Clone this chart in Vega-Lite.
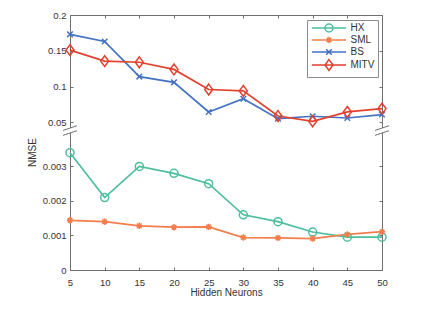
{
  "$schema": "https://vega.github.io/schema/vega-lite/v6.json",
  "width": 312,
  "height": 255,
  "autosize": {"type": "none"},
  "padding": {"left": 70, "top": 15, "right": 66, "bottom": 56},
  "background": "white",
  "config": {
    "view": {"stroke": null},
    "font": "Liberation Sans",
    "axis": {
      "domainColor": "#707070",
      "tickColor": "#707070",
      "labelColor": "#333333",
      "titleColor": "#333333",
      "labelFontSize": 9.5,
      "titleFontSize": 10,
      "titleFontWeight": "normal",
      "tickSize": -3,
      "grid": false,
      "domainWidth": 1,
      "tickWidth": 1,
      "labelFlush": false,
      "labelOverlap": false,
      "labelBound": false
    },
    "legend": {
      "orient": "none", "legendX": 237, "legendY": 5, "title": null,
      "strokeColor": "#8c8c8c", "fillColor": "white", "padding": 3, "rowPadding": -2,
      "symbolSize": 64, "symbolStrokeWidth": 1.5, "symbolOffset": 14, "labelOffset": 16.5,
      "symbolOpacity": 1, "labelFontSize": 10, "labelColor": "#333333"
    }
  },
  "datasets": {
    "nmse": [
      {"n": 5, "s": "HX", "v": 0.0034},
      {"n": 10, "s": "HX", "v": 0.0021},
      {"n": 15, "s": "HX", "v": 0.0030},
      {"n": 20, "s": "HX", "v": 0.0028},
      {"n": 25, "s": "HX", "v": 0.0025},
      {"n": 30, "s": "HX", "v": 0.0016},
      {"n": 35, "s": "HX", "v": 0.0014},
      {"n": 40, "s": "HX", "v": 0.0011},
      {"n": 45, "s": "HX", "v": 0.00095},
      {"n": 50, "s": "HX", "v": 0.00095},
      {"n": 5, "s": "SML", "v": 0.00144},
      {"n": 10, "s": "SML", "v": 0.0014},
      {"n": 15, "s": "SML", "v": 0.00128},
      {"n": 20, "s": "SML", "v": 0.00124},
      {"n": 25, "s": "SML", "v": 0.00125},
      {"n": 30, "s": "SML", "v": 0.00094},
      {"n": 35, "s": "SML", "v": 0.00093},
      {"n": 40, "s": "SML", "v": 0.00091},
      {"n": 45, "s": "SML", "v": 0.00103},
      {"n": 50, "s": "SML", "v": 0.00111},
      {"n": 5, "s": "BS", "v": 0.173},
      {"n": 10, "s": "BS", "v": 0.163},
      {"n": 15, "s": "BS", "v": 0.114},
      {"n": 20, "s": "BS", "v": 0.106},
      {"n": 25, "s": "BS", "v": 0.0646},
      {"n": 30, "s": "BS", "v": 0.083},
      {"n": 35, "s": "BS", "v": 0.0553},
      {"n": 40, "s": "BS", "v": 0.0586},
      {"n": 45, "s": "BS", "v": 0.0562},
      {"n": 50, "s": "BS", "v": 0.061},
      {"n": 5, "s": "MITV", "v": 0.151},
      {"n": 10, "s": "MITV", "v": 0.1356},
      {"n": 15, "s": "MITV", "v": 0.134},
      {"n": 20, "s": "MITV", "v": 0.124},
      {"n": 25, "s": "MITV", "v": 0.096},
      {"n": 30, "s": "MITV", "v": 0.094},
      {"n": 35, "s": "MITV", "v": 0.059},
      {"n": 40, "s": "MITV", "v": 0.0516},
      {"n": 45, "s": "MITV", "v": 0.0646},
      {"n": 50, "s": "MITV", "v": 0.0693}
    ],
    "breaks": [
      {"n": 5, "v": 0.025},
      {"n": 50, "v": 0.025}
    ]
  },
  "layer": [
    {
      "data": {"name": "nmse"},
      "mark": {"type": "line", "strokeWidth": 1.7},
      "encoding": {
        "x": {
          "field": "n", "type": "quantitative",
          "scale": {"domain": [5, 50], "nice": false, "zero": false},
          "axis": {"orient": "bottom", "values": [5, 10, 15, 20, 25, 30, 35, 40, 45, 50], "labelPadding": 10, "title": "Hidden Neurons", "titlePadding": 1}
        },
        "y": {
          "field": "v", "type": "quantitative",
          "scale": {"domain": [0, 0.0039, 0.045, 0.2], "range": [255, 120.4, 111, 0], "nice": false, "zero": false},
          "axis": {"orient": "left", "values": [0, 0.001, 0.002, 0.003, 0.05, 0.1, 0.15, 0.2], "labelExpr": "'' + datum.value", "labelPadding": 7, "title": "NMSE", "titleX": -33, "titleY": 137}
        },
        "color": {
          "field": "s", "type": "nominal",
          "scale": {"domain": ["HX", "SML", "BS", "MITV"], "range": ["#4DBE9E", "#F47D4D", "#4472C4", "#E2402E"]}
        }
      }
    },
    {
      "data": {"name": "nmse"},
      "transform": [{"filter": "datum.s === 'HX'"}],
      "mark": {"type": "point", "filled": false, "strokeWidth": 1.5, "size": 64, "opacity": 1, "shape": "M-1,0A1,1 0 1,0 1,0A1,1 0 1,0 -1,0"},
      "encoding": {
        "x": {
          "field": "n", "type": "quantitative",
          "axis": {"orient": "top", "values": [5, 10, 15, 20, 25, 30, 35, 40, 45, 50], "labels": false, "title": null}
        },
        "y": {
          "field": "v", "type": "quantitative",
          "axis": {"orient": "right", "values": [0, 0.001, 0.002, 0.003, 0.05, 0.1, 0.15, 0.2], "labels": false, "title": null}
        },
        "color": {"field": "s", "type": "nominal"}
      }
    },
    {
      "data": {"name": "nmse"},
      "transform": [{"filter": "datum.s === 'SML'"}],
      "mark": {"type": "point", "filled": false, "strokeWidth": 1.5, "size": 64, "opacity": 1, "shape": "M0,-0.8V0.8M-0.8,0H0.8M-0.57,-0.57L0.57,0.57M-0.57,0.57L0.57,-0.57"},
      "encoding": {
        "x": {"field": "n", "type": "quantitative", "axis": null},
        "y": {"field": "v", "type": "quantitative", "axis": null},
        "color": {"field": "s", "type": "nominal"}
      }
    },
    {
      "data": {"name": "nmse"},
      "transform": [{"filter": "datum.s === 'BS'"}],
      "mark": {"type": "point", "filled": false, "strokeWidth": 1.5, "size": 64, "opacity": 1, "shape": "M-0.7,-0.7L0.7,0.7M-0.7,0.7L0.7,-0.7"},
      "encoding": {
        "x": {"field": "n", "type": "quantitative", "axis": null},
        "y": {"field": "v", "type": "quantitative", "axis": null},
        "color": {"field": "s", "type": "nominal"}
      }
    },
    {
      "data": {"name": "nmse"},
      "transform": [{"filter": "datum.s === 'MITV'"}],
      "mark": {"type": "point", "filled": false, "strokeWidth": 1.5, "size": 64, "opacity": 1, "shape": "M0,-1.35L1,0L0,1.35L-1,0Z"},
      "encoding": {
        "x": {"field": "n", "type": "quantitative", "axis": null},
        "y": {"field": "v", "type": "quantitative", "axis": null},
        "color": {"field": "s", "type": "nominal"}
      }
    },
    {
      "data": {"name": "nmse"},
      "mark": {"type": "point", "filled": false, "strokeWidth": 1.5, "size": 64, "opacity": 0},
      "encoding": {
        "x": {"field": "n", "type": "quantitative", "axis": null},
        "y": {"field": "v", "type": "quantitative", "axis": null},
        "color": {"field": "s", "type": "nominal"},
        "shape": {
          "field": "s", "type": "nominal",
          "scale": {
            "domain": ["HX", "SML", "BS", "MITV"],
            "range": [
              "M-4.25,0H4.25M-1,0A1,1 0 1,0 1,0A1,1 0 1,0 -1,0",
              "M-4.25,0H4.25M0,-0.8V0.8M-0.57,-0.57L0.57,0.57M-0.57,0.57L0.57,-0.57",
              "M-4.25,0H4.25M-0.7,-0.7L0.7,0.7M-0.7,0.7L0.7,-0.7",
              "M-4.25,0H4.25M0,-1.35L1,0L0,1.35L-1,0Z"
            ]
          }
        }
      }
    },
    {
      "data": {"name": "breaks"},
      "mark": {"type": "point", "filled": true, "fill": "white", "strokeOpacity": 0, "size": 196, "opacity": 1, "shape": "M-1,-0.02L1,-0.69L1,0.02L-1,0.69Z"},
      "encoding": {
        "x": {"field": "n", "type": "quantitative", "axis": null},
        "y": {"field": "v", "type": "quantitative", "axis": null}
      }
    },
    {
      "data": {"name": "breaks"},
      "mark": {"type": "point", "filled": false, "stroke": "#707070", "strokeWidth": 1, "size": 196, "opacity": 1, "shape": "M-1,-0.02L1,-0.69M-1,0.69L1,0.02"},
      "encoding": {
        "x": {"field": "n", "type": "quantitative", "axis": null},
        "y": {"field": "v", "type": "quantitative", "axis": null}
      }
    }
  ]
}
